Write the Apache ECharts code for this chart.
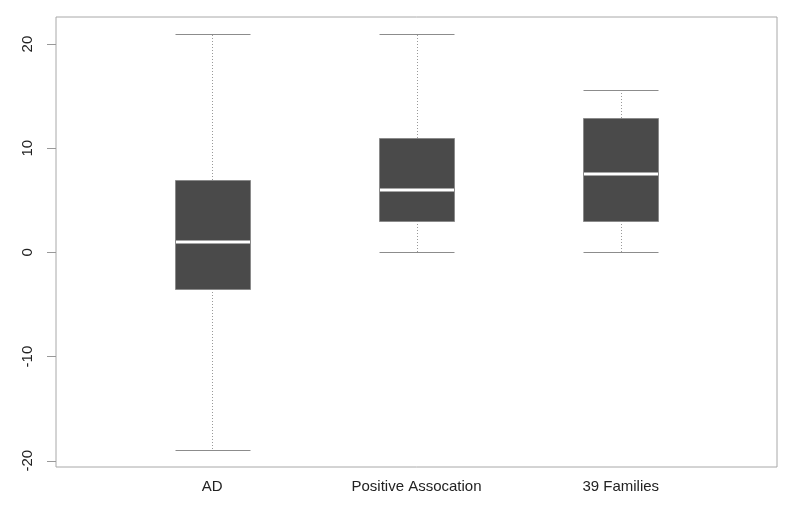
<!DOCTYPE html>
<html>
<head>
<meta charset="utf-8">
<script src="https://cdn.jsdelivr.net/npm/echarts@6/dist/echarts.min.js"></script>
<style>html,body{margin:0;padding:0;background:#fff}#c{width:800px;height:515px}</style>
</head>
<body>
<div id="c"></div>
<script>
const categories = ["AD", "Positive Assocation", "39 Families"];
const lowerWhisker = [-19, 0, 0];
const q1 = [-3.5, 3, 3];
const median = [1, 6, 7.5];
const q3 = [7, 11, 12.9];
const upperWhisker = [21, 21, 15.6];
const yTicks = [-20, -10, 0, 10, 20];

const chart = echarts.init(document.getElementById('c'), null, {renderer: 'canvas'});
const data = categories.map((c, i) => [i + 1, lowerWhisker[i], q1[i], median[i], q3[i], upperWhisker[i]]);
const YMIN = -20.6, YMAX = 22.6;
const HALF = 0.183;

chart.setOption({
  animation: false,
  backgroundColor: '#fff',
  grid: {left: 56, right: 23, top: 17, bottom: 48, show: true, borderColor: '#a8a8a8', borderWidth: 1, backgroundColor: 'transparent'},
  xAxis: {type: 'value', min: 0.235, max: 3.765, show: false},
  yAxis: {
    type: 'value', min: YMIN, max: YMAX,
    axisLine: {show: false},
    splitLine: {show: false},
    axisTick: {show: true, inside: false, length: 9, lineStyle: {color: '#999'}, customValues: yTicks},
    axisLabel: {show: true, customValues: yTicks, rotate: 90, margin: 21, fontFamily: 'Liberation Sans', fontSize: 15, color: '#222'}
  },
  series: [{
    type: 'custom',
    data: data,
    encode: {x: 0, y: [1, 2, 3, 4, 5]},
    clip: false,
    renderItem: function (params, api) {
      const x = api.value(0);
      const lo = api.coord([x - HALF, api.value(1)]);
      const hiL = api.coord([x - HALF, api.value(5)]);
      const c1 = api.coord([x, api.value(1)]);
      const b1 = api.coord([x - HALF, api.value(2)]);
      const b3 = api.coord([x + HALF, api.value(4)]);
      const m = api.coord([x, api.value(3)]);
      const right = api.coord([x + HALF, 0])[0];
      const left = lo[0];
      const bottomPx = api.coord([x, YMIN])[1];
      const cx = Math.round(c1[0]) + 0.5;
      const lyLo = Math.round(lo[1]) + 0.5, lyHi = Math.round(hiL[1]) + 0.5;
      const L = Math.round(left) + 0.5, R = Math.round(right) + 0.5;
      const top = Math.round(b3[1]), bot = Math.round(b1[1]);
      const grey = '#8c8c8c';
      return {
        type: 'group',
        children: [
          {type: 'line', shape: {x1: cx, y1: bot, x2: cx, y2: lyLo}, style: {stroke: '#999', lineWidth: 1, lineDash: [1, 2]}},
          {type: 'line', shape: {x1: cx, y1: top, x2: cx, y2: lyHi}, style: {stroke: '#999', lineWidth: 1, lineDash: [1, 2]}},
          {type: 'line', shape: {x1: L, y1: lyLo, x2: R, y2: lyLo}, style: {stroke: grey, lineWidth: 1}},
          {type: 'line', shape: {x1: L, y1: lyHi, x2: R, y2: lyHi}, style: {stroke: grey, lineWidth: 1}},
          {type: 'rect', shape: {x: L, y: top + 0.5, width: R - L, height: bot - top}, style: {fill: '#4a4a4a', stroke: '#8a8a8a', lineWidth: 1}},
          {type: 'line', shape: {x1: L + 0.5, y1: Math.round(m[1]), x2: R - 0.5, y2: Math.round(m[1])}, style: {stroke: '#ffffff', lineWidth: 3}},
          {type: 'text', x: c1[0], y: bottomPx + 20, style: {text: categories[params.dataIndex], fontFamily: 'Liberation Sans', fontSize: 15, fill: '#222', align: 'center', verticalAlign: 'middle'}}
        ]
      };
    }
  }]
});
</script>
</body>
</html>
